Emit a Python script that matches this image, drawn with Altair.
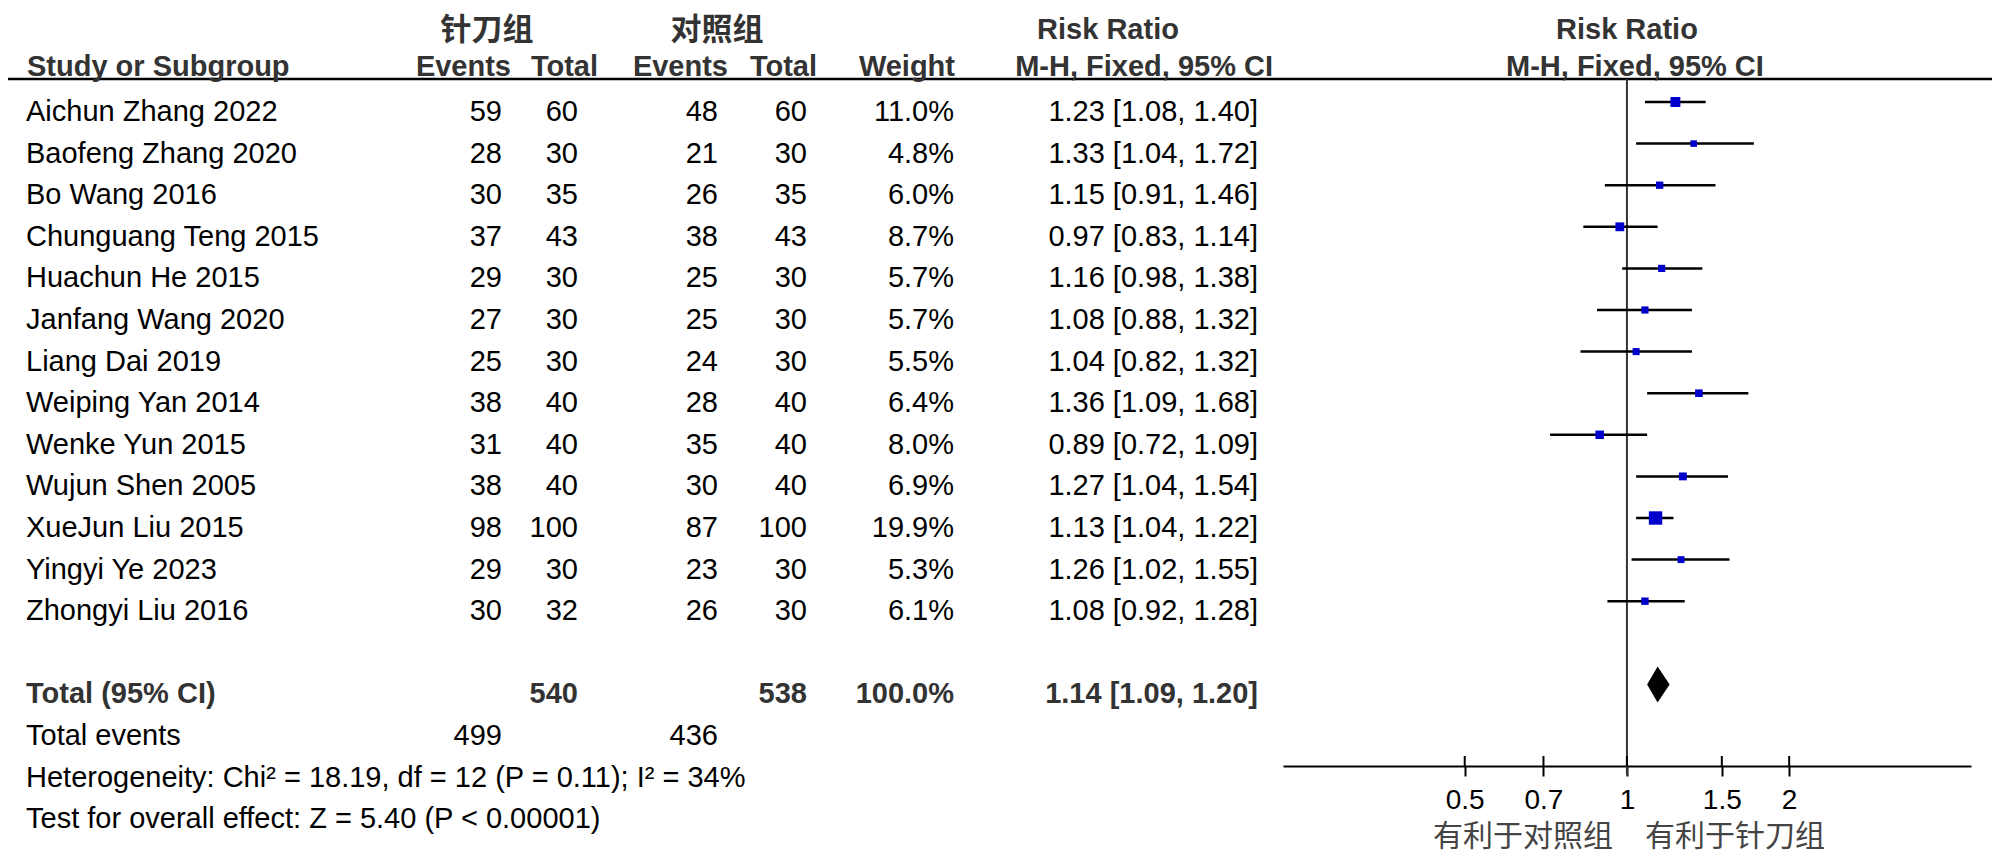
import altair as alt
import pandas as pd

# ---------------- data ----------------
studies = ["Aichun Zhang 2022", "Baofeng Zhang 2020", "Bo Wang 2016", "Chunguang Teng 2015",
           "Huachun He 2015", "Janfang Wang 2020", "Liang Dai 2019", "Weiping Yan 2014",
           "Wenke Yun 2015", "Wujun Shen 2005", "XueJun Liu 2015", "Yingyi Ye 2023",
           "Zhongyi Liu 2016"]
exp_events = [59, 28, 30, 37, 29, 27, 25, 38, 31, 38, 98, 29, 30]
exp_total = [60, 30, 35, 43, 30, 30, 30, 40, 40, 40, 100, 30, 32]
ctl_events = [48, 21, 26, 38, 25, 25, 24, 28, 35, 30, 87, 23, 26]
ctl_total = [60, 30, 35, 43, 30, 30, 30, 40, 40, 40, 100, 30, 30]
weights = [11.0, 4.8, 6.0, 8.7, 5.7, 5.7, 5.5, 6.4, 8.0, 6.9, 19.9, 5.3, 6.1]
rr = [1.23, 1.33, 1.15, 0.97, 1.16, 1.08, 1.04, 1.36, 0.89, 1.27, 1.13, 1.26, 1.08]
rr_lo = [1.08, 1.04, 0.91, 0.83, 0.98, 0.88, 0.82, 1.09, 0.72, 1.04, 1.04, 1.02, 0.92]
rr_hi = [1.40, 1.72, 1.46, 1.14, 1.38, 1.32, 1.32, 1.68, 1.09, 1.54, 1.22, 1.55, 1.28]

total_exp_events = 499
total_exp_n = 540
total_ctl_events = 436
total_ctl_n = 538
total_weight = 100.0
total_rr = 1.14
total_lo = 1.09
total_hi = 1.20

group_names = ["针刀组", "对照组"]
col_headers = ["Study or Subgroup", "Events", "Total", "Events", "Total", "Weight",
               "M-H, Fixed, 95% CI"]
rr_header = "Risk Ratio"
footer_lines = ["Total (95% CI)", "Total events",
                "Heterogeneity: Chi² = 18.19, df = 12 (P = 0.11); I² = 34%",
                "Test for overall effect: Z = 5.40 (P < 0.00001)"]
tick_values = [0.5, 0.7, 1, 1.5, 2]
x_domain = [0.23, 4.35]
favours = ["有利于对照组", "有利于针刀组"]

# ---------------- layout ----------------
W, H = 1984, 758
ROW0 = 94
ROW_PX = 41.6
FONT = "Liberation Sans"
CJK = "Noto Sans CJK SC"
FS = 29
DY = 10
n = len(studies)
TOTAL_ROW = n + 1
LAST_ROW = TOTAL_ROW + 3

yscale = alt.Scale(domain=[0, LAST_ROW], range=[ROW0, ROW0 + ROW_PX * LAST_ROW], nice=False, zero=False)
xscale = alt.Scale(type="log", domain=x_domain, range=[1275, 1963], nice=False, zero=False)
x_axis = alt.Axis(values=tick_values, labelExpr="datum.value", title=None, grid=False,
                  domainColor="#000", domainWidth=2, tickColor="#000", tickWidth=2,
                  tickSize=10, labelFontSize=28, labelFont=FONT, labelColor="#000",
                  labelPadding=10, labelBaseline="top", labelFlush=False, labelOverlap=False)

df = pd.DataFrame({
    "study": studies, "row": list(range(n)),
    "ee": exp_events, "et": exp_total, "ce": ctl_events, "ct": ctl_total,
    "w": weights, "rr": rr, "lo": rr_lo, "hi": rr_hi,
})
df["w_text"] = [f"{w:.1f}%" for w in weights]
df["rr_text"] = [f"{a:.2f} [{b:.2f}, {c:.2f}]" for a, b, c in zip(rr, rr_lo, rr_hi)]

tot = pd.DataFrame({
    "row": [TOTAL_ROW], "et": [total_exp_n], "ct": [total_ctl_n],
    "w_text": [f"{total_weight:.1f}%"],
    "rr_text": [f"{total_rr:.2f} [{total_lo:.2f}, {total_hi:.2f}]"],
})
tev = pd.DataFrame({"row": [TOTAL_ROW + 1], "ee": [total_exp_events], "ce": [total_ctl_events]})
foot = pd.DataFrame({"row": [TOTAL_ROW + i for i in range(4)], "label": footer_lines,
                     "bold": [True, False, False, False]})

Y = alt.Y("row:Q", scale=yscale, axis=None)


def col_text(data, field, x, align="right", bold=False, color="#000"):
    return alt.Chart(data).mark_text(
        align=align, baseline="middle", dy=DY, font=FONT, fontSize=FS,
        fontWeight="bold" if bold else "normal", color=color
    ).encode(x=alt.value(x), y=Y, text=alt.Text(f"{field}:N"))


def fixed_text(label, x, y, align="center", bold=True, font=FONT, size=FS, color="#333"):
    return alt.Chart(pd.DataFrame({"t": [label]})).mark_text(
        align=align, baseline="middle", font=font, fontSize=size,
        fontWeight="bold" if bold else "normal", color=color
    ).encode(x=alt.value(x), y=alt.value(y), text="t:N")


layers = []

# header line
layers.append(alt.Chart(pd.DataFrame({"a": [0]})).mark_rule(color="#000", strokeWidth=2.5)
              .encode(x=alt.value(0), x2=alt.value(W), y=alt.value(71)))

# header texts
layers.append(fixed_text(group_names[0], 479, 23, font=CJK, size=31))
layers.append(fixed_text(group_names[1], 709, 23, font=CJK, size=31))
layers.append(fixed_text(rr_header, 1100, 22))
hdr_pos = [(19, "left"), (503, "right"), (590, "right"), (720, "right"), (809, "right"),
           (947, "right"), (1265, "right")]
for label, (x, al) in zip(col_headers, hdr_pos):
    layers.append(fixed_text(label, x, 59, align=al))

# forest header centred on RR = 1
layers.append(alt.Chart(pd.DataFrame({"t": [rr_header]})).mark_text(
    align="center", baseline="middle", font=FONT, fontSize=FS, fontWeight="bold", color="#333"
).encode(x=alt.X(datum=1, type="quantitative", scale=xscale, axis=x_axis), y=alt.value(22), text="t:N"))
layers.append(alt.Chart(pd.DataFrame({"t": [col_headers[-1]]})).mark_text(
    align="center", baseline="middle", font=FONT, fontSize=FS, fontWeight="bold", color="#333", dx=8
).encode(x=alt.X(datum=1, type="quantitative", scale=xscale, axis=x_axis), y=alt.value(59), text="t:N"))

# study rows
layers.append(col_text(df, "study", 18, align="left"))
layers.append(col_text(df, "ee", 494))
layers.append(col_text(df, "et", 570))
layers.append(col_text(df, "ce", 710))
layers.append(col_text(df, "ct", 799))
layers.append(col_text(df, "w_text", 946))
layers.append(col_text(df, "rr_text", 1250))

# total row and footer
layers.append(col_text(foot[foot["bold"]], "label", 18, align="left", bold=True, color="#333"))
layers.append(col_text(foot[~foot["bold"]], "label", 18, align="left"))
layers.append(col_text(tot, "et", 570, bold=True, color="#333"))
layers.append(col_text(tot, "ct", 799, bold=True, color="#333"))
layers.append(col_text(tot, "w_text", 946, bold=True, color="#333"))
layers.append(col_text(tot, "rr_text", 1250, bold=True, color="#333"))
layers.append(col_text(tev, "ee", 494))
layers.append(col_text(tev, "ce", 710))

# line of no effect
layers.append(alt.Chart(pd.DataFrame({"a": [0]})).mark_rule(color="#333", strokeWidth=2)
              .encode(x=alt.X(datum=1, type="quantitative", scale=xscale, axis=x_axis),
                      y=alt.value(71), y2=alt.value(H + 9)))

# confidence intervals
layers.append(alt.Chart(df).mark_rule(color="#000", strokeWidth=2.5).encode(
    x=alt.X("lo:Q", scale=xscale, axis=x_axis), x2="hi:Q", y=Y))

# squares
layers.append(alt.Chart(df).mark_square(color="#0000CC", opacity=1, filled=True).encode(
    x=alt.X("rr:Q", scale=xscale, axis=x_axis), y=Y,
    size=alt.Size("w:Q", scale=alt.Scale(domain=[0, 20], range=[0, 180], zero=True), legend=None)))

# diamond
half = 18 / ROW_PX
dia = pd.DataFrame({
    "x": [total_lo, total_rr, total_hi],
    "y": [TOTAL_ROW, TOTAL_ROW - half, TOTAL_ROW],
    "y2": [TOTAL_ROW, TOTAL_ROW + half, TOTAL_ROW],
})
layers.append(alt.Chart(dia).mark_area(color="#000", opacity=1).encode(
    x=alt.X("x:Q", scale=xscale, axis=x_axis),
    y=alt.Y("y:Q", scale=yscale, axis=None), y2="y2:Q"))

# upward halves of the ticks
ticks = pd.DataFrame({"v": tick_values})
layers.append(alt.Chart(ticks).mark_rule(color="#000", strokeWidth=2).encode(
    x=alt.X("v:Q", scale=xscale, axis=x_axis), y=alt.value(H - 10), y2=alt.value(H)))

# favours labels
layers.append(alt.Chart(pd.DataFrame({"t": [favours[0]]})).mark_text(
    align="right", baseline="middle", font=CJK, fontSize=30, color="#444", dx=-14
).encode(x=alt.X(datum=1, type="quantitative", scale=xscale, axis=x_axis), y=alt.value(829), text="t:N"))
layers.append(alt.Chart(pd.DataFrame({"t": [favours[1]]})).mark_text(
    align="left", baseline="middle", font=CJK, fontSize=30, color="#444", dx=18
).encode(x=alt.X(datum=1, type="quantitative", scale=xscale, axis=x_axis), y=alt.value(829), text="t:N"))

chart = alt.layer(*layers).properties(
    width=W, height=H,
    padding={"left": 0, "top": 0, "right": 0, "bottom": 86},
    autosize=alt.AutoSizeParams(type="none"),
).configure(background="white").configure_view(stroke=None)

chart.save("out.html", embed_options={"renderer": "svg", "actions": False})
